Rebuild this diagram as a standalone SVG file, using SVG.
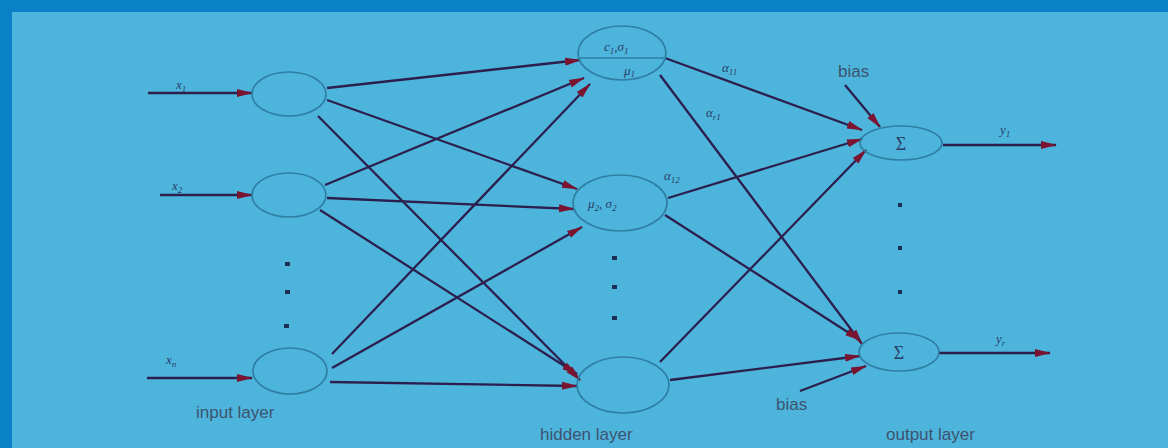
<svg xmlns="http://www.w3.org/2000/svg" width="1168" height="448" viewBox="0 0 1168 448">
<defs>
<style>
.node{fill:none;stroke:#2f7ea4;stroke-width:1.7}
.edge{stroke:#2c1f4e;stroke-width:2.3;fill:none;marker-end:url(#ah)}
.lbl{font-family:"Liberation Sans",Arial,sans-serif;font-size:17px;fill:#3d5370}
.sym{font-family:"Liberation Serif","Times New Roman",serif;font-size:13px;fill:#2a3d6a;font-style:italic}
.dot{fill:#1e2f55}
</style>
<marker id="ah" markerWidth="16" markerHeight="10" refX="15" refY="5" orient="auto" markerUnits="userSpaceOnUse">
<path d="M0,1 L16,5 L0,9 Z" fill="#7a1430"/>
</marker>
</defs>
<rect x="0" y="0" width="1168" height="448" fill="#0a80c6"/>
<rect x="12" y="12" width="1156" height="436" fill="#4db5dc"/>

<g id="connectors">
<line class="edge" x1="148" y1="93" x2="252" y2="93"/>
<line class="edge" x1="160" y1="195" x2="252" y2="195"/>
<line class="edge" x1="147" y1="378" x2="252" y2="378"/>
<line class="edge" x1="327" y1="88" x2="580" y2="60"/>
<line class="edge" x1="327" y1="100" x2="577" y2="189"/>
<line class="edge" x1="318" y1="116" x2="580" y2="380" stroke-width="3"/>
<line class="edge" x1="325" y1="185" x2="584" y2="78"/>
<line class="edge" x1="327" y1="198" x2="574" y2="209"/>
<line class="edge" x1="320" y1="210" x2="577" y2="374"/>
<line class="edge" x1="332" y1="354" x2="590" y2="84"/>
<line class="edge" x1="332" y1="368" x2="582" y2="227"/>
<line class="edge" x1="330" y1="382" x2="577" y2="386"/>
<line class="edge" x1="665" y1="58" x2="862" y2="130"/>
<line class="edge" x1="660" y1="75" x2="862" y2="344"/>
<line class="edge" x1="668" y1="198" x2="862" y2="139"/>
<line class="edge" x1="665" y1="215" x2="860" y2="340"/>
<line class="edge" x1="660" y1="362" x2="866" y2="150"/>
<line class="edge" x1="670" y1="380" x2="860" y2="356"/>
<line class="edge" x1="845" y1="85" x2="880" y2="127"/>
<line class="edge" x1="800" y1="391" x2="866" y2="366"/>
<line class="edge" x1="943" y1="145" x2="1056" y2="145"/>
<line class="edge" x1="938" y1="353" x2="1050" y2="353"/>
</g>

<g id="input1"><ellipse class="node" cx="289" cy="94" rx="37" ry="22"/><text class="sym" x="176" y="89">x<tspan font-size="9" dy="3">1</tspan></text></g>
<g id="input2"><ellipse class="node" cx="289" cy="195" rx="37" ry="22"/><text class="sym" x="172" y="190">x<tspan font-size="9" dy="3">2</tspan></text></g>
<g id="input3"><ellipse class="node" cx="290" cy="371" rx="37" ry="23"/><text class="sym" x="166" y="364">x<tspan font-size="9" dy="3">n</tspan></text></g>

<g id="hidden1"><ellipse class="node" cx="622" cy="53" rx="44" ry="27"/><line x1="580" y1="58" x2="664" y2="58" stroke="#2f7ea4" stroke-width="1.4"/><text class="sym" x="604" y="51" fill="#8a2a55">c<tspan font-size="9" dy="3">1</tspan><tspan dy="-3">,σ</tspan><tspan font-size="9" dy="3">1</tspan></text><text class="sym" x="624" y="75">μ<tspan font-size="9" dy="2">1</tspan></text></g>
<g id="hidden2"><ellipse class="node" cx="620" cy="203" rx="47" ry="28"/><text class="sym" x="588" y="208">μ<tspan font-size="9" dy="3">2</tspan><tspan dy="-3">, σ</tspan><tspan font-size="9" dy="3">2</tspan></text></g>
<g id="hidden3"><ellipse class="node" cx="623" cy="385" rx="46" ry="28"/></g>

<g id="output1"><ellipse class="node" cx="901" cy="143" rx="41" ry="17"/><text x="901" y="150" text-anchor="middle" font-family="Liberation Serif,serif" font-size="18" fill="#2a3d6a">Σ</text><text class="sym" x="1000" y="134">y<tspan font-size="9" dy="3">1</tspan></text></g>
<g id="output2"><ellipse class="node" cx="899" cy="352" rx="40" ry="19"/><text x="899" y="359" text-anchor="middle" font-family="Liberation Serif,serif" font-size="18" fill="#2a3d6a">Σ</text><text class="sym" x="996" y="343">y<tspan font-size="9" dy="3">r</tspan></text></g>

<g id="weights">
<text class="sym" x="722" y="72">α<tspan font-size="9" dy="3">11</tspan></text>
<text class="sym" x="706" y="117">α<tspan font-size="9" dy="3">r1</tspan></text>
<text class="sym" x="664" y="180">α<tspan font-size="9" dy="3">12</tspan></text>
</g>

<g id="dots">
<rect class="dot" x="285" y="262" width="5" height="4"/>
<rect class="dot" x="285" y="290" width="5" height="4"/>
<rect class="dot" x="284" y="324" width="5" height="4"/>
<rect class="dot" x="612" y="256" width="5" height="4"/>
<rect class="dot" x="612" y="285" width="5" height="4"/>
<rect class="dot" x="612" y="316" width="5" height="4"/>
<rect class="dot" x="898" y="203" width="4" height="4"/>
<rect class="dot" x="898" y="246" width="4" height="4"/>
<rect class="dot" x="898" y="290" width="4" height="4"/>
</g>

<g id="labels">
<text class="lbl" x="838" y="77">bias</text>
<text class="lbl" x="776" y="410">bias</text>
<text class="lbl" x="196" y="418">input layer</text>
<text class="lbl" x="540" y="440">hidden layer</text>
<text class="lbl" x="886" y="440">output layer</text>
</g>
</svg>
